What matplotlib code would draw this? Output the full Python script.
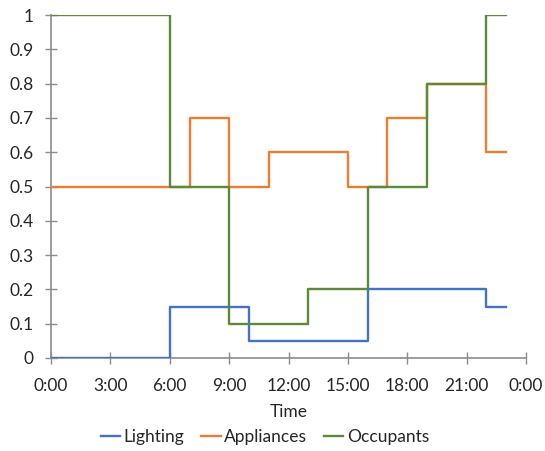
import matplotlib
matplotlib.use("Agg")
import matplotlib.pyplot as plt

# Hourly schedule breakpoints (hours) and the value held from each breakpoint onward
lighting_t = [0, 6, 10, 16, 22, 23]
lighting_v = [0, 0.15, 0.05, 0.2, 0.15, 0.15]

appliances_t = [0, 7, 9, 11, 15, 17, 19, 22, 23]
appliances_v = [0.5, 0.7, 0.5, 0.6, 0.5, 0.7, 0.8, 0.6, 0.6]

occupants_t = [0, 6, 9, 13, 16, 19, 22, 23]
occupants_v = [1, 0.5, 0.1, 0.2, 0.5, 0.8, 1, 1]

x_ticks = [0, 3, 6, 9, 12, 15, 18, 21, 24]
x_labels = ["0:00", "3:00", "6:00", "9:00", "12:00", "15:00", "18:00", "21:00", "0:00"]
y_ticks = [0, 0.1, 0.2, 0.3, 0.4, 0.5, 0.6, 0.7, 0.8, 0.9, 1]
y_labels = ["0", "0.1", "0.2", "0.3", "0.4", "0.5", "0.6", "0.7", "0.8", "0.9", "1"]

plt.rcParams["font.family"] = ["Lato", "DejaVu Sans"]

W, H = 545, 451
fig = plt.figure(figsize=(W / 100, H / 100), dpi=100)
ax = fig.add_axes([51 / W, 1 - 358 / H, (526 - 51) / W, (358 - 15) / H])

lw = 1.7
ax.step(lighting_t, lighting_v, where="post", color="#4472C4", lw=lw, label="Lighting", zorder=3)
ax.step(appliances_t, appliances_v, where="post", color="#ED7D31", lw=lw, label="Appliances", zorder=3)
ax.step(occupants_t, occupants_v, where="post", color="#5B8A3A", lw=lw, label="Occupants", zorder=3)

ax.set_xlim(0, 24)
ax.set_ylim(0, 1)
ax.set_xticks(x_ticks)
ax.set_xticklabels(x_labels)
ax.set_yticks(y_ticks)
ax.set_yticklabels(y_labels)

for s in ["top", "right"]:
    ax.spines[s].set_visible(False)
for s in ["left", "bottom"]:
    ax.spines[s].set_color("#8C8C8C")
    ax.spines[s].set_linewidth(1.2)
    ax.spines[s].set_zorder(2)

fs = 12.5
ax.tick_params(axis="both", direction="inout", length=9, width=1.0, color="#8C8C8C",
               labelsize=fs, labelcolor="#262626")
ax.tick_params(axis="y", pad=8)
ax.tick_params(axis="x", pad=10)

ax.set_xlabel("Time", fontsize=fs, color="#262626", labelpad=7)

handles, labels = ax.get_legend_handles_labels()
leg = fig.legend(handles, labels, loc="center", bbox_to_anchor=(265 / W, 1 - 437 / H), ncol=3,
                 frameon=False, fontsize=fs, handlelength=1.1, handletextpad=0.2,
                 columnspacing=1.0, borderaxespad=0.0, borderpad=0.0)
for t in leg.get_texts():
    t.set_color("#262626")

fig.savefig("out.png", dpi=100)
